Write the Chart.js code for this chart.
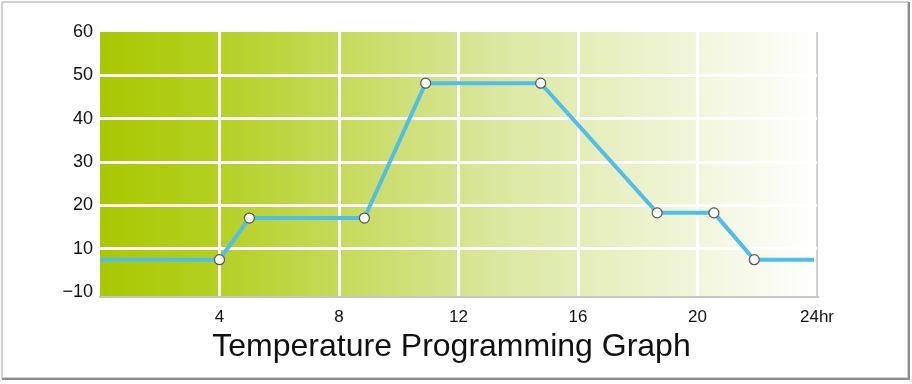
<!DOCTYPE html>
<html>
<head>
<meta charset="utf-8">
<script src="https://cdn.jsdelivr.net/npm/chart.js@4.4.1/dist/chart.umd.min.js"></script>
<style>
  body { margin: 0; background: #fff; }
  canvas { display: block; }
</style>
</head>
<body>
<canvas id="tempChart" width="912" height="384"></canvas>
<script>
// Temperature programming profile (hours vs temperature)
const hours = [0, 4, 5, 8.85, 10.9, 14.75, 18.65, 20.55, 21.9, 23.9];
const temps = [7.5, 7.5, 17.1, 17.1, 48.2, 48.2, 18.3, 18.3, 7.5, 7.5];
const markerRadius = [0, 5, 5, 5, 5, 5, 5, 5, 5, 0];

const xTickValues = [4, 8, 12, 16, 20, 24];
const xTickLabels = ['4', '8', '12', '16', '20', '24hr'];
const yTickValues = [0, 10, 20, 30, 40, 50, 60];
const yTickLabels = ['\u221210', '10', '20', '30', '40', '50', '60'];

const chartTitle = 'Temperature Programming Graph';
const FONT = '"Liberation Sans", Arial, sans-serif';

// background gradient + outer frame + title text
const bgPlugin = {
  id: 'bgPlugin',
  beforeDraw(chart) {
    const { ctx, chartArea: a } = chart;
    ctx.save();
    const g = ctx.createLinearGradient(a.left, 0, a.right, 0);
    g.addColorStop(0, '#a9c800');
    g.addColorStop(0.15, '#b3cf1e');
    g.addColorStop(0.35, '#c7db60');
    g.addColorStop(0.55, '#dae79e');
    g.addColorStop(0.78, '#edf3d0');
    g.addColorStop(1, '#ffffff');
    ctx.fillStyle = g;
    ctx.fillRect(a.left, a.top, a.right - a.left, a.bottom - a.top);

    // frame
    ctx.strokeStyle = '#c4c4c4';
    ctx.lineWidth = 1.5;
    ctx.strokeRect(2, 2, 906, 376);
    ctx.strokeStyle = '#8c8c8c';
    ctx.lineWidth = 2;
    ctx.beginPath();
    ctx.moveTo(909, 2); ctx.lineTo(909, 379); ctx.lineTo(2, 379);
    ctx.stroke();
    ctx.restore();
  },
  afterDraw(chart) {
    const ctx = chart.ctx;
    ctx.save();
    ctx.fillStyle = '#111';
    ctx.font = '32px ' + FONT;
    ctx.textAlign = 'center';
    ctx.textBaseline = 'alphabetic';
    ctx.fillText(chartTitle, 451.5, 356);
    ctx.restore();
  }
};

new Chart(document.getElementById('tempChart'), {
  type: 'line',
  data: {
    datasets: [{
      data: hours.map((h, i) => ({ x: h, y: temps[i] })),
      borderColor: '#4fbfea',
      borderWidth: 4,
      tension: 0,
      pointRadius: markerRadius,
      pointBackgroundColor: '#ffffff',
      pointBorderColor: '#555555',
      pointBorderWidth: 1.2
    }]
  },
  options: {
    responsive: false,
    animation: false,
    layout: { padding: { top: 32, left: 0, right: 95, bottom: 53 } },
    plugins: {
      legend: { display: false },
      tooltip: { enabled: false }
    },
    scales: {
      x: {
        type: 'linear',
        min: 0,
        max: 24,
        afterBuildTicks: (scale) => { scale.ticks = xTickValues.map(v => ({ value: v })); },
        afterFit: (scale) => { scale.height = 34; },
        ticks: {
          padding: 10,
          color: '#111',
          font: { family: FONT, size: 17 },
          callback: (v) => xTickLabels[xTickValues.indexOf(v)]
        },
        grid: {
          drawTicks: false,
          color: (c) => (c.tick && c.tick.value === 24 ? '#d2d2d2' : '#ffffff'),
          lineWidth: (c) => (c.tick && c.tick.value === 24 ? 2 : 3)
        },
        border: { display: true, color: '#c6c6c6', width: 2 }
      },
      y: {
        type: 'linear',
        min: -1.1,
        max: 60,
        afterBuildTicks: (scale) => { scale.ticks = yTickValues.map(v => ({ value: v })); },
        afterFit: (scale) => { scale.width = 100; },
        ticks: {
          padding: 7,
          color: '#111',
          font: { family: FONT, size: 18 },
          callback: (v) => yTickLabels[yTickValues.indexOf(v)]
        },
        grid: {
          drawTicks: false,
          color: (c) => (c.tick && (c.tick.value === 0 || c.tick.value === 60) ? 'rgba(0,0,0,0)' : '#ffffff'),
          lineWidth: 3
        },
        border: { display: false }
      }
    }
  },
  plugins: [bgPlugin]
});
</script>
</body>
</html>
